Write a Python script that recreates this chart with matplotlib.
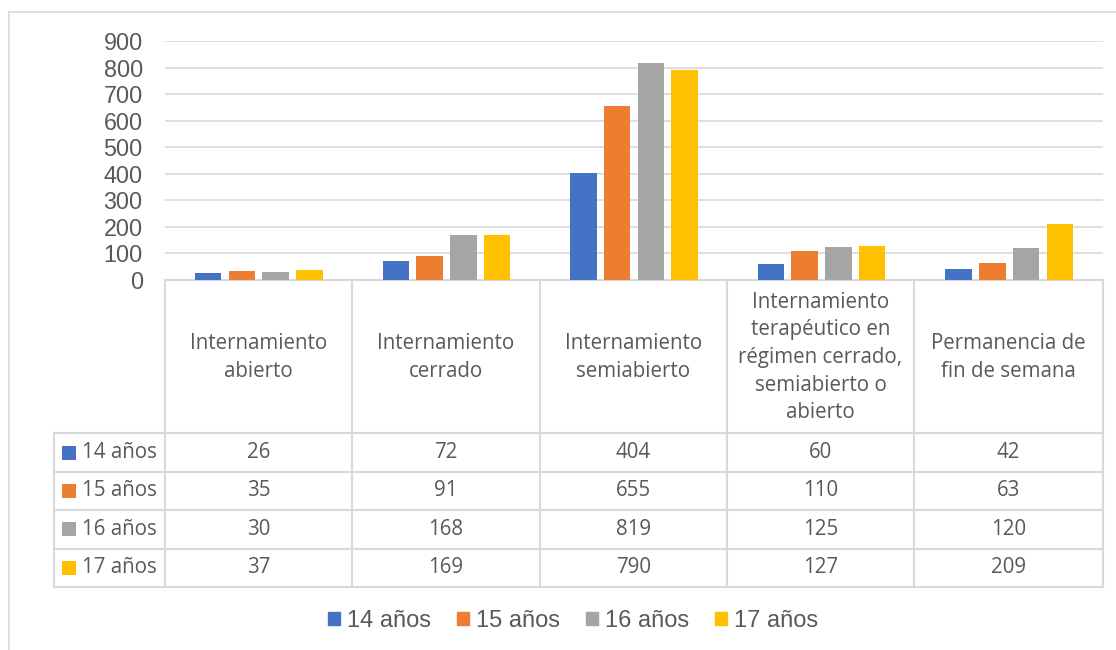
import numpy as np
import matplotlib.pyplot as plt
from matplotlib.patches import Patch, Rectangle

# --- data ---
categories = [
    "Internamiento\nabierto",
    "Internamiento\ncerrado",
    "Internamiento\nsemiabierto",
    "Internamiento\nterapéutico en\nrégimen cerrado,\nsemiabierto o\nabierto",
    "Permanencia de\nfin de semana",
]
series_names = ["14 años", "15 años", "16 años", "17 años"]
v14 = [26, 72, 404, 60, 42]
v15 = [35, 91, 655, 110, 63]
v16 = [30, 168, 819, 125, 120]
v17 = [37, 169, 790, 127, 209]
y_ticks = [0, 100, 200, 300, 400, 500, 600, 700, 800, 900]

colors = ["#4472C4", "#ED7D31", "#A5A5A5", "#FFC000"]
text_col = "#595959"
line_col = "#D9D9D9"
W, H = 1116, 650

fig = plt.figure(figsize=(W / 100, H / 100), dpi=100)


def fx(px):
    return px / W


def fy(py):
    return 1 - py / H


# --- bar axes ---
ax_left, ax_right, ax_top, ax_bot = 165, 1103, 41, 280
ax = fig.add_axes([fx(ax_left), fy(ax_bot), fx(ax_right - ax_left), (ax_bot - ax_top) / H])
x = np.arange(len(categories))
pitch, width = 0.18, 0.141
all_vals = [v14, v15, v16, v17]
for i, vals in enumerate(all_vals):
    ax.bar(x + (i - 1.5) * pitch, vals, width, color=colors[i], zorder=3)

ax.set_xlim(-0.5, len(categories) - 0.5)
ax.set_ylim(0, 900)
ax.set_yticks(y_ticks)
ax.set_yticklabels([str(t) for t in y_ticks], fontsize=16.8, color=text_col,
                   family="Liberation Sans")
ax.tick_params(axis="y", length=0, pad=16)
ax.set_xticks([])
for s in ax.spines.values():
    s.set_visible(False)
ax.yaxis.grid(True, color=line_col, linewidth=1.2, zorder=0)
ax.set_facecolor("none")

# --- overlay for table, border and legend (pixel coordinates) ---
ov = fig.add_axes([0, 0, 1, 1], zorder=-1)
ov.set_xlim(0, W)
ov.set_ylim(H, 0)
ov.axis("off")

lw = 1.5
# chart border
ov.plot([9, 9], [12, H], color=line_col, lw=1.2)
ov.plot([9, W], [12, 12], color=line_col, lw=1.2)

col_edges = [165, 352, 540, 727, 914, 1103]
row_edges = [433, 472, 510, 548.5, 587]
label_left = 54

ov.plot([col_edges[0], col_edges[-1]], [280, 280], color=line_col, lw=lw)
for xe in col_edges:
    ov.plot([xe, xe], [280, row_edges[-1]], color=line_col, lw=lw)
for ye in row_edges:
    ov.plot([label_left, col_edges[-1]], [ye, ye], color=line_col, lw=lw)
ov.plot([label_left, label_left], [row_edges[0], row_edges[-1]], color=line_col, lw=lw)

tfont = dict(family="Open Sans", fontsize=14.8, color=text_col)
for j, cat in enumerate(categories):
    cx = (col_edges[j] + col_edges[j + 1]) / 2
    ov.text(cx, (280 + row_edges[0]) / 2 + 1, cat, ha="center", va="center",
            linespacing=1.42, **tfont)
for i, vals in enumerate(all_vals):
    cy = (row_edges[i] + row_edges[i + 1]) / 2
    ov.add_patch(Rectangle((62, cy - 7), 14, 14, color=colors[i], lw=0))
    ov.text(82, cy, series_names[i], ha="left", va="center", **tfont)
    for j, v in enumerate(vals):
        cx = (col_edges[j] + col_edges[j + 1]) / 2
        ov.text(cx, cy, str(v), ha="center", va="center", **tfont)

# --- legend ---
handles = [Patch(color=c) for c in colors]
leg = fig.legend(handles, series_names, loc="center", ncol=4,
                 bbox_to_anchor=(fx(573), fy(621)), frameon=False,
                 handlelength=0.5, handleheight=0.5, handletextpad=0.3,
                 columnspacing=1.1,
                 prop={"family": "Liberation Sans", "size": 17})
for t in leg.get_texts():
    t.set_color(text_col)

fig.savefig("out.png", dpi=100, facecolor="white")
